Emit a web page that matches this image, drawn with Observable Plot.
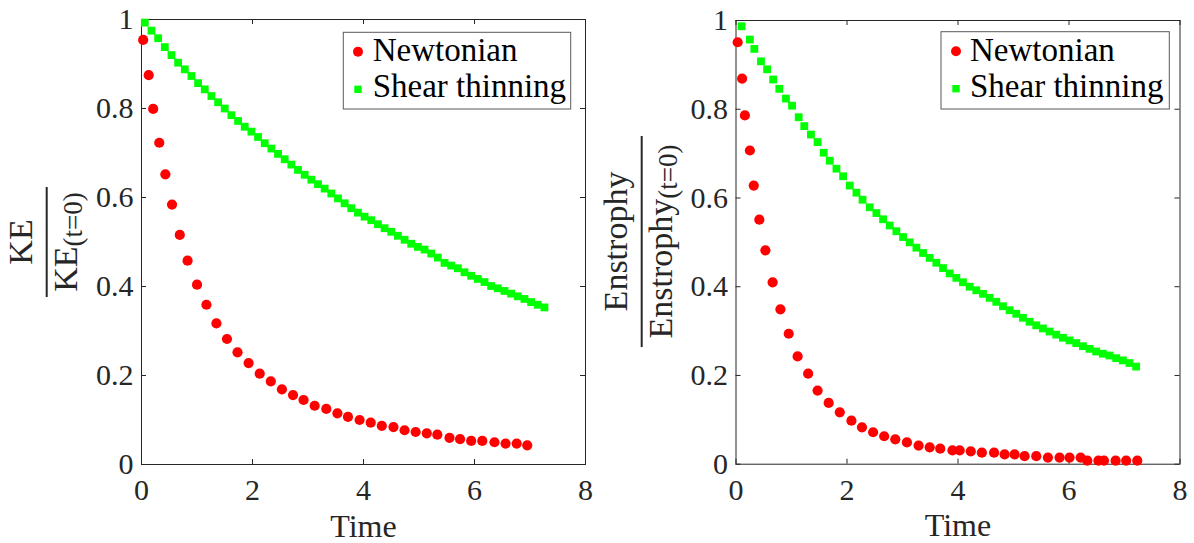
<!DOCTYPE html>
<html>
<head>
<meta charset="utf-8">
<script src="https://cdn.jsdelivr.net/npm/d3@7"></script>
<script src="https://cdn.jsdelivr.net/npm/@observablehq/plot@0.6"></script>
<style>
  body { margin: 0; background: #ffffff; }
  #wrap { position: relative; width: 1194px; height: 543px; overflow: hidden; background: #fff; }
  .panel { position: absolute; top: 0; }
</style>
</head>
<body>
<div id="wrap"></div>
<script>
// ---------- data ----------
const xTicks = [0, 2, 4, 6, 8];
const yTicks = [0, 0.2, 0.4, 0.6, 0.8, 1];
const seriesNames = ["Newtonian", "Shear thinning"];
const xLabel = "Time";

// Kinetic energy panel
const keNewtT = [0.03,0.13,0.21,0.32,0.43,0.55,0.69,0.83,1.00,1.17,1.35,1.54,1.73,1.93,2.13,2.33,2.53,2.73,2.92,3.12,3.33,3.53,3.72,3.93,4.13,4.33,4.54,4.74,4.94,5.14,5.33,5.55,5.74,5.94,6.14,6.36,6.56,6.76,6.95];
const keNewtV = [0.954,0.875,0.799,0.723,0.652,0.584,0.516,0.458,0.404,0.359,0.317,0.282,0.252,0.228,0.204,0.187,0.169,0.156,0.145,0.132,0.125,0.115,0.107,0.100,0.094,0.087,0.084,0.077,0.073,0.070,0.067,0.060,0.057,0.053,0.053,0.050,0.047,0.047,0.043];
const keShearT = [0.06,0.18,0.30,0.42,0.54,0.66,0.78,0.90,1.02,1.14,
  1.26,1.38,1.50,1.62,1.74,1.86,1.98,2.10,2.22,2.34,
  2.46,2.58,2.70,2.82,2.94,3.06,3.18,3.30,3.42,3.54,
  3.66,3.78,3.90,4.02,4.14,4.26,4.38,4.50,4.62,4.74,
  4.86,4.98,5.10,5.22,5.34,5.46,5.58,5.70,5.82,5.94,
  6.06,6.18,6.30,6.42,6.54,6.66,6.78,6.90,7.02,7.14,7.26];
const keShearV = [0.993,0.975,0.958,0.938,0.920,0.903,0.888,0.873,0.857,0.843,
  0.828,0.814,0.800,0.785,0.772,0.759,0.748,0.736,0.722,0.710,
  0.698,0.686,0.674,0.662,0.651,0.640,0.630,0.620,0.609,0.598,
  0.587,0.576,0.566,0.557,0.549,0.540,0.531,0.523,0.514,0.505,
  0.496,0.489,0.483,0.474,0.465,0.453,0.447,0.441,0.432,0.424,
  0.417,0.410,0.401,0.396,0.390,0.384,0.378,0.372,0.365,0.359,0.353];

// Enstrophy panel
const enNewtT = [0.03,0.11,0.16,0.25,0.32,0.42,0.53,0.66,0.80,0.95,1.11,1.30,1.47,1.67,1.87,2.08,2.27,2.47,2.67,2.87,3.08,3.29,3.49,3.68,3.90,4.03,4.23,4.43,4.65,4.84,5.02,5.20,5.41,5.62,5.83,6.01,6.21,6.33,6.53,6.63,6.84,7.03,7.23];
const enNewtV = [0.951,0.869,0.786,0.707,0.628,0.551,0.482,0.410,0.349,0.294,0.243,0.204,0.166,0.138,0.117,0.098,0.083,0.072,0.063,0.056,0.049,0.042,0.038,0.035,0.031,0.031,0.029,0.026,0.026,0.022,0.022,0.018,0.018,0.015,0.015,0.015,0.015,0.008,0.008,0.008,0.008,0.008,0.008];
const enShearT = [0.10,0.25,0.33,0.45,0.56,0.67,0.78,0.90,1.01,1.13,
  1.23,1.35,1.47,1.58,1.69,1.81,1.93,2.05,2.17,2.28,
  2.41,2.53,2.65,2.77,2.89,3.01,3.13,3.25,3.37,3.49,
  3.61,3.73,3.85,3.97,4.09,4.21,4.33,4.45,4.57,4.69,
  4.81,4.93,5.05,5.17,5.29,5.41,5.53,5.65,5.77,5.89,
  6.01,6.13,6.25,6.37,6.49,6.61,6.73,6.85,6.97,7.09,7.21];
const enShearV = [0.987,0.957,0.936,0.908,0.890,0.867,0.846,0.824,0.808,0.782,
  0.762,0.743,0.726,0.702,0.684,0.666,0.649,0.628,0.612,0.596,
  0.579,0.566,0.552,0.538,0.525,0.512,0.500,0.488,0.476,0.465,
  0.454,0.442,0.430,0.420,0.410,0.400,0.392,0.384,0.375,0.366,
  0.356,0.347,0.339,0.330,0.321,0.313,0.306,0.299,0.292,0.285,
  0.279,0.273,0.266,0.260,0.254,0.249,0.245,0.239,0.234,0.228,0.220];

// ---------- drawing ----------
const AX = "#262626";
const FONT = "'Liberation Serif', 'Times New Roman', serif";
const RED = "#ff0000", GREEN = "#00ff00";

function panel(cfg) {
  const W = 597, H = 543;
  const ph = H - cfg.mt - cfg.mb, pw = W - cfg.ml - cfg.mr;
  const newt = cfg.tN.map((t, i) => ({t, v: cfg.vN[i]}));
  const shear = cfg.tS.map((t, i) => ({t, v: cfg.vS[i]}));
  const svg = Plot.plot({
    width: W, height: H,
    marginLeft: cfg.ml, marginRight: cfg.mr, marginTop: cfg.mt, marginBottom: cfg.mb,
    style: {fontFamily: FONT, fontSize: "30px", color: AX, background: "transparent", overflow: "visible"},
    x: {domain: [0, 8]},
    y: {domain: [0, 1]},
    marks: [
      Plot.axisX(xTicks, {tickSize: 0, tickPadding: 14, tickFormat: d => String(d), label: null}),
      Plot.axisY(yTicks, {tickSize: 0, tickPadding: 8, tickFormat: d => String(d), label: null}),
      Plot.tickX(xTicks, {x: d => d, insetTop: ph - 5, stroke: AX}),
      Plot.tickX(xTicks, {x: d => d, insetBottom: ph - 5, stroke: AX}),
      Plot.tickY(yTicks, {y: d => d, insetRight: pw - 5, stroke: AX}),
      Plot.tickY(yTicks, {y: d => d, insetLeft: pw - 5, stroke: AX}),
      Plot.frame({stroke: AX, strokeWidth: 1}),
      Plot.dot(newt, {x: "t", y: "v", r: 5.1, fill: RED, stroke: "none"}),
      Plot.dot(shear, {x: "t", y: "v", symbol: "square", r: 4.4, fill: GREEN, stroke: "none"}),
      Plot.text([xLabel], {frameAnchor: "bottom", lineAnchor: "middle", dy: 62, fontSize: 32, fill: AX})
    ]
  });

  const s = d3.select(svg);
  // y label as a fraction, rotated
  const g = s.append("g")
    .attr("transform", `translate(${cfg.fx},${cfg.fy}) rotate(-90)`)
    .attr("font-family", FONT).attr("fill", AX).attr("text-anchor", "middle");
  g.append("text").attr("x", 0).attr("y", -15).attr("font-size", 34).text(cfg.num);
  const den = g.append("text").attr("x", 0).attr("y", 30).attr("font-size", 34);
  den.append("tspan").text(cfg.num);
  den.append("tspan").attr("font-size", 27).attr("dy", 5).text("(t=0)");
  g.append("line").attr("x1", -cfg.fl).attr("x2", cfg.fl).attr("y1", 0).attr("y2", 0)
    .attr("stroke", AX).attr("stroke-width", 2);

  // legend
  const L = cfg.leg;
  const lg = s.append("g").attr("font-family", FONT).attr("font-size", 33).attr("fill", "#000").attr("text-anchor", "start");
  lg.append("rect").attr("x", L.x).attr("y", L.y).attr("width", L.w).attr("height", L.h)
    .attr("fill", "#fff").attr("stroke", "#5a5a5a").attr("stroke-width", 1);
  lg.append("circle").attr("cx", L.mx).attr("cy", L.y + 19.5).attr("r", 5).attr("fill", RED);
  lg.append("rect").attr("x", L.mx - 3.7).attr("y", L.y + 57 - 3.7).attr("width", 7.4).attr("height", 7.4).attr("fill", GREEN);
  lg.append("text").attr("x", L.tx).attr("y", L.y + 29).attr("text-anchor", "start").text(seriesNames[0]);
  lg.append("text").attr("x", L.tx).attr("y", L.y + 65).attr("text-anchor", "start").text(seriesNames[1]);

  const div = document.createElement("div");
  div.className = "panel";
  div.style.left = cfg.left + "px";
  div.appendChild(svg);
  document.getElementById("wrap").appendChild(div);
}

panel({
  left: 0, ml: 141, mr: 12, mt: 19, mb: 79,
  tN: keNewtT, vN: keNewtV, tS: keShearT, vS: keShearV,
  num: "KE", fx: 46.7, fy: 242, fl: 55,
  leg: {x: 343.3, y: 32.3, w: 227.4, h: 76.7, mx: 358, tx: 372.7}
});
panel({
  left: 597, ml: 138.5, mr: 14.5, mt: 20, mb: 79.3,
  tN: enNewtT, vN: enNewtV, tS: enShearT, vS: enShearV,
  num: "Enstrophy", fx: 44.7, fy: 241.5, fl: 105.5,
  leg: {x: 344, y: 31.7, w: 228.3, h: 77.3, mx: 359, tx: 373}
});
</script>
</body>
</html>
